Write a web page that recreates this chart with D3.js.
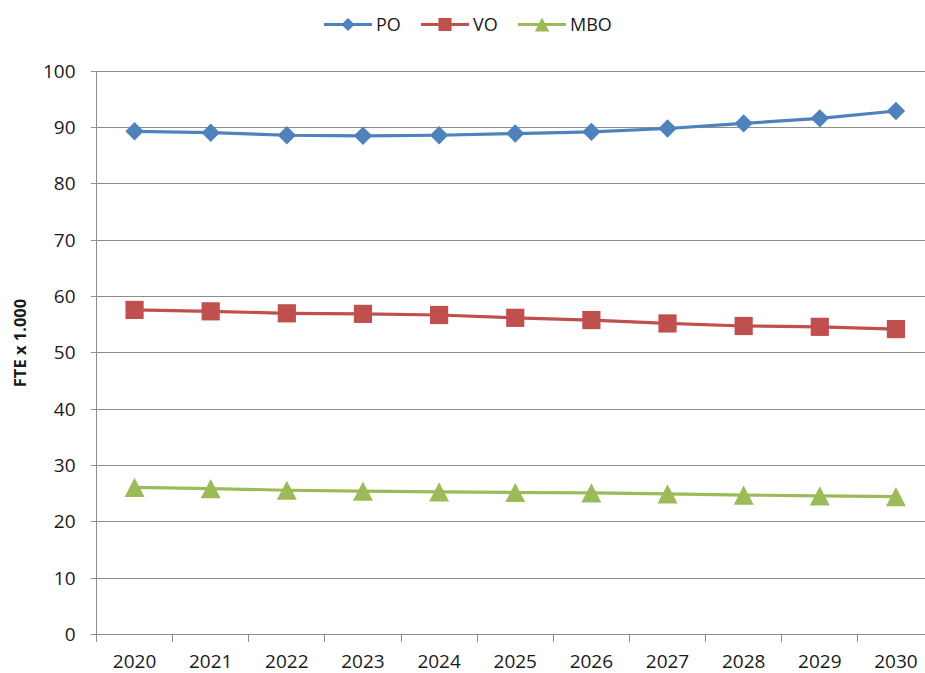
<!DOCTYPE html>
<html><head><meta charset="utf-8">
<script src="https://cdn.jsdelivr.net/npm/d3@7"></script>
<style>body{margin:0;background:#fff}svg{display:block}text{font-family:"Open Sans",sans-serif;fill:#1a1a1a}</style>
</head><body>
<script>
const years = ["2020","2021","2022","2023","2024","2025","2026","2027","2028","2029","2030"];
const poValues  = [89.3, 89.05, 88.6, 88.5, 88.6, 88.9, 89.2, 89.8, 90.7, 91.6, 92.9];
const voValues  = [57.6, 57.35, 57.0, 56.9, 56.7, 56.2, 55.8, 55.2, 54.75, 54.6, 54.2];
const mboValues = [26.1, 25.9, 25.6, 25.45, 25.3, 25.2, 25.15, 24.95, 24.75, 24.6, 24.45];
const yTicks = [0,10,20,30,40,50,60,70,80,90,100];
const seriesNames = ["PO","VO","MBO"];
const seriesColors = ["#4F81BD","#C0504D","#9BBB59"];
const yTitle = "FTE x 1.000";

const W = 925, H = 673;
const svg = d3.select("body").append("svg").attr("width", W).attr("height", H);
const pLeft = 96.5, pRight = 934, pTop = 71, pBottom = 634.5;
const x = d3.scaleBand().domain(years).range([pLeft, pRight]);
const y = d3.scaleLinear().domain([0,100]).range([pBottom, pTop]);
const grid = "#8c8c8c";

// gridlines
svg.append("g").selectAll("line").data(yTicks.filter(t => t > 0)).join("line")
  .attr("x1", pLeft - 6).attr("x2", pRight).attr("y1", d => y(d)).attr("y2", d => y(d))
  .attr("stroke", grid).attr("stroke-width", 1).attr("shape-rendering","crispEdges");
// axis lines
svg.append("line").attr("x1", pLeft - 6).attr("x2", pRight).attr("y1", y(0)).attr("y2", y(0))
  .attr("stroke", grid).attr("shape-rendering","crispEdges");
svg.append("line").attr("x1", pLeft).attr("x2", pLeft).attr("y1", y(100)).attr("y2", y(0))
  .attr("stroke", grid).attr("shape-rendering","crispEdges");
// x ticks at band boundaries
const bounds = years.map(d => x(d)).concat([pRight]);
svg.append("g").selectAll("line").data(bounds).join("line")
  .attr("x1", d => d).attr("x2", d => d).attr("y1", y(0)).attr("y2", y(0) + 7)
  .attr("stroke", grid).attr("shape-rendering","crispEdges");

// y tick labels
svg.append("g").selectAll("text").data(yTicks).join("text")
  .attr("x", pLeft - 21).attr("y", d => y(d)).attr("dy", "0.35em")
  .attr("text-anchor", "end").attr("font-size", 19).text(d => d);
// x tick labels
svg.append("g").selectAll("text").data(years).join("text")
  .attr("x", d => x(d) + x.bandwidth()/2).attr("y", 668)
  .attr("text-anchor", "middle").attr("font-size", 19).text(d => d);

// y title
svg.append("text").attr("transform", `translate(26,343) rotate(-90)`)
  .attr("text-anchor", "middle").attr("font-size", 16.5).attr("font-weight", "bold").text(yTitle);

// marker generators
function marker(s, scale) {
  if (s === 0) { // square diamond
    const h = 9.2 * scale;
    return `M0,${-h}L${h},0L0,${h}L${-h},0Z`;
  } else if (s === 1) {
    const h = 9.1 * scale;
    return `M${-h},${-h}H${h}V${h}H${-h}Z`;
  } else {
    const w = 10 * scale, h = 9.6 * scale;
    return `M0,${-h}L${w},${h}L${-w},${h}Z`;
  }
}

const allValues = [poValues, voValues, mboValues];
const line = d3.line().x((d,i) => x(years[i]) + x.bandwidth()/2).y(d => y(d));
allValues.forEach((vals, s) => {
  svg.append("path").datum(vals).attr("d", line).attr("fill", "none")
    .attr("stroke", seriesColors[s]).attr("stroke-width", 3.2);
  svg.append("g").selectAll("path").data(vals).join("path")
    .attr("transform", (d,i) => `translate(${x(years[i]) + x.bandwidth()/2},${y(d)})`)
    .attr("d", marker(s, 1))
    .attr("fill", seriesColors[s]);
});

// legend
const legX = [324, 421, 518];
seriesNames.forEach((n, s) => {
  const g = svg.append("g").attr("transform", `translate(${legX[s]},24.5)`);
  g.append("line").attr("x1", 0).attr("x2", 48).attr("stroke", seriesColors[s]).attr("stroke-width", 3.2);
  g.append("path").attr("transform", `translate(24,0)`)
    .attr("d", marker(s, 0.72)).attr("fill", seriesColors[s]);
  g.append("text").attr("x", 52).attr("dy", "0.35em").attr("font-size", 18).text(n);
});
</script>
</body></html>
